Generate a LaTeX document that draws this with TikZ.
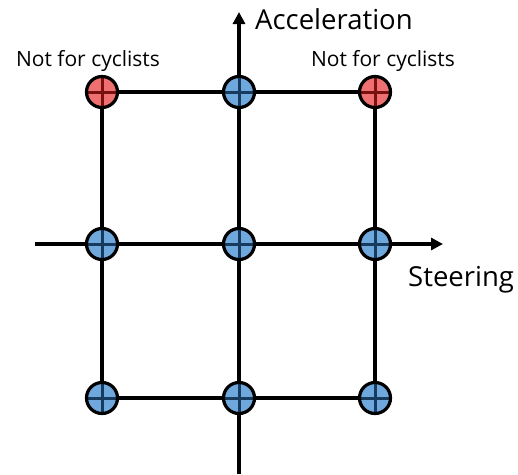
\documentclass[tikz,border=0pt]{standalone}
\usepackage{fontspec}
\setmainfont{Open Sans}
\usetikzlibrary{arrows.meta, backgrounds}
\definecolor{cellred}{HTML}{EE7070}
\definecolor{crossred}{HTML}{7A1010}
\definecolor{cellblue}{HTML}{6FA8DC}
\definecolor{crossblue}{HTML}{173B5E}

\begin{document}
\begin{tikzpicture}[
  x=1pt, y=-1pt,
  >={Triangle[length=12pt, width=12pt]},
  cell/.style={
    circle, draw=black, line width=3.2pt, minimum size=31pt, inner sep=0pt,
    path picture={
      \draw[line width=3pt, #1]
        (path picture bounding box.north) -- (path picture bounding box.south)
        (path picture bounding box.west) -- (path picture bounding box.east);
    }
  },
  redcell/.style={cell=crossred, fill=cellred},
  bluecell/.style={cell=crossblue, fill=cellblue},
  grid/.style={line width=3.4pt, black},
  axis/.style={->, line width=3.4pt, black},
  lbl/.style={font=\fontsize{21}{25}\selectfont, inner sep=0pt},
  axlbl/.style={font=\fontsize{27.5}{32}\selectfont, inner sep=0pt},
]
\useasboundingbox (0,0) rectangle (518,474);

% Grid points
\node[redcell]  (tl) at (102, 92)  {};
\node[bluecell] (tc) at (239, 92)  {};
\node[redcell]  (tr) at (375, 92)  {};
\node[bluecell] (ml) at (102, 244) {};
\node[bluecell] (mc) at (239, 244) {};
\node[bluecell] (mr) at (375, 244) {};
\node[bluecell] (bl) at (102, 398) {};
\node[bluecell] (bc) at (239, 398) {};
\node[bluecell] (br) at (375, 398) {};

% Axis ends
\coordinate (xstart) at (35, 244);
\coordinate (xend)   at (443, 244);
\coordinate (ystart) at (239, 474);
\coordinate (yend)   at (239, 12);

% Lines behind the points
\begin{scope}[on background layer]
  \draw[grid] (tl.center) -- (tr.center);
  \draw[grid] (bl.center) -- (br.center);
  \draw[grid] (tl.center) -- (bl.center);
  \draw[grid] (tr.center) -- (br.center);
  \draw[axis] (xstart) -- (xend);
  \draw[axis] (ystart) -- (yend);
\end{scope}

% Labels
\node[axlbl, anchor=west] (acc) at (255, 19) {Acceleration};
\node[axlbl, anchor=west] (steer) at (408, 280) {Steering};
\node[lbl] (warnl) at (88, 61)  {Not for cyclists};
\node[lbl] (warnr) at (383, 61) {Not for cyclists};

\end{tikzpicture}
\end{document}
